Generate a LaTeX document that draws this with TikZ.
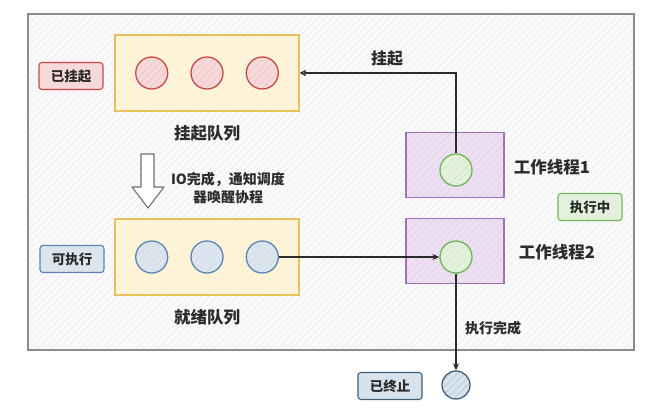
\documentclass[tikz,border=0pt]{standalone}
\usepackage{fontspec}
\newfontfamily\cjk{Noto Sans CJK SC}
\usetikzlibrary{positioning,arrows.meta,patterns.meta}
\definecolor{ink}{HTML}{2B2B2B}
\definecolor{framegray}{HTML}{8C8C8C}
\definecolor{frametint}{HTML}{FAFAFA}
\definecolor{qyellow}{HTML}{E6C25E}
\definecolor{qtint}{HTML}{FDF4D9}
\definecolor{sred}{HTML}{C84848}
\definecolor{stint}{HTML}{F8D9D9}
\definecolor{rblue}{HTML}{5C84B5}
\definecolor{rtint}{HTML}{DCE5EE}
\definecolor{wpurple}{HTML}{9E72B4}
\definecolor{wtint}{HTML}{EEE0F2}
\definecolor{rgreen}{HTML}{72B45A}
\definecolor{gtint}{HTML}{E4F1DC}
\definecolor{dslate}{HTML}{3F6079}
\definecolor{dtint}{HTML}{D7E3EC}
\tikzset{
  % tint first, hatch lines next, outline last
  hatch/.style 2 args={preaction={fill=#1}, pattern={Lines[angle=45,distance=5pt,line width=.5pt]},
    pattern color=#2},
  frame/.style={draw=framegray, line width=1.6pt, hatch={frametint}{black!8},
    minimum width=606pt, minimum height=336pt, inner sep=0pt},
  queue/.style={draw=qyellow, line width=1.3pt, hatch={qtint}{qyellow!28},
    minimum width=184pt, minimum height=76pt, inner sep=0pt},
  worker/.style={draw=wpurple, line width=1.3pt, hatch={wtint}{wpurple!32},
    minimum width=98pt, minimum height=65pt, inner sep=0pt},
  ball/.style={circle, line width=1.3pt, minimum size=32pt, inner sep=0pt},
  sball/.style={ball, draw=sred, hatch={stint}{sred!32}},
  rball/.style={ball, draw=rblue, hatch={rtint}{rblue!28}},
  gball/.style={ball, draw=rgreen, hatch={gtint}{rgreen!32}},
  dball/.style={ball, draw=dslate, hatch={dtint}{dslate!38}, minimum size=28pt},
  tag/.style={line width=1.1pt, rounded corners=3pt, minimum width=64pt, minimum height=27pt,
    inner sep=0pt, text=ink, font=\cjk\bfseries\fontsize{13.5pt}{15pt}\selectfont},
  qname/.style={text=ink, font=\cjk\bfseries\fontsize{16.5pt}{18pt}\selectfont},
  wname/.style={text=ink, font=\cjk\bfseries\fontsize{16.5pt}{18pt}\selectfont},
  lab/.style={text=ink, align=center, font=\cjk\bfseries\fontsize{14pt}{18pt}\selectfont},
  arr/.style={-{Stealth[length=7pt,width=6pt]}, line width=1.4pt, color=ink},
  oarr/.style={-{Triangle[open,length=6pt,width=6pt]}, line width=1.4pt, color=ink},
}
\begin{document}
\begin{tikzpicture}[x=1pt,y=-1pt]
  \useasboundingbox[fill=white] (0,0) rectangle (655,407);
  \node[frame] (frame) at (331,182) {};

  % 挂起队列
  \node[queue] (sq) at (207,73) {};
  \node[sball] (s2) at (sq.center) {};
  \node[sball, left=22pt of s2] (s1) {};
  \node[sball, right=22pt of s2] (s3) {};
  \node[qname] (sqname) at (207,133) {挂起队列};
  \node[tag, draw=sred, fill=stint] (suspended) at (71,76) {已挂起};

  % IO 通知
  \draw[framegray!80!black, line width=1.1pt, fill=white, line join=round]
    (141,154) -- (154,154) -- (154,187) -- (164,187) -- (148,208)
    -- (132,187) -- (141,187) -- cycle;
  \node[lab] (io) at (228,188) {IO完成，通知调度\\器唤醒协程};

  % 就绪队列
  \node[queue] (rq) at (207,257) {};
  \node[rball] (r2) at (rq.center) {};
  \node[rball, left=22pt of r2] (r1) {};
  \node[rball, right=22pt of r2] (r3) {};
  \node[qname] (rqname) at (207,317) {就绪队列};
  \node[tag, draw=rblue, fill=rtint] (runnable) at (72,259) {可执行};

  % 工作线程
  \node[worker] (w1) at (455,165) {};
  \node[gball] (w1c) at (456,170) {};
  \node[wname] (w1name) at (552,167) {工作线程1};
  \node[worker] (w2) at (455,251) {};
  \node[gball] (w2c) at (456,257) {};
  \node[wname] (w2name) at (557,252) {工作线程2};
  \node[tag, draw=rgreen, fill=gtint] (running) at (590,207) {执行中};

  % 已终止
  \node[dball] (dead) at (456,385) {};
  \node[tag, draw=dslate, fill=dtint] (finished) at (390,386) {已终止};

  \draw[oarr] (w1c.north) |- node[lab, pos=0.72, above=3pt, font=\cjk\bfseries\fontsize{16pt}{18pt}\selectfont] {挂起} (sq.east);
  \draw[arr] (r3.east) -- (w2c.west);
  \draw[arr] (w2c.south) -- node[lab, pos=0.56, right=5pt] {执行完成} (dead.north);
\end{tikzpicture}
\end{document}
